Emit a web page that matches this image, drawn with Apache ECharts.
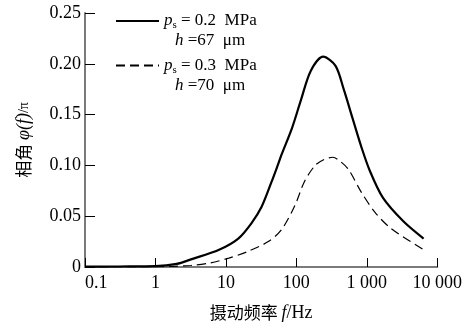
<!DOCTYPE html>
<html>
<head>
<meta charset="utf-8">
<script src="https://cdn.jsdelivr.net/npm/echarts@6/dist/echarts.min.js"></script>
<style>
  html, body { margin: 0; padding: 0; background: #fff; }
  #chart { width: 465px; height: 327px; }
</style>
</head>
<body>
<div id="chart"></div>
<script>
// frequency (Hz), phase angle / pi
const solidSeries = [
  [0.1, 0.0003], [0.3, 0.0005], [1, 0.0008], [2, 0.003], [3.2, 0.0075],
  [8, 0.017], [15, 0.028], [23, 0.043], [32, 0.059], [44, 0.083],
  [55, 0.101], [62, 0.111], [87, 0.137], [117, 0.165], [160, 0.193],
  [240, 0.207], [360, 0.198], [470, 0.175], [630, 0.146], [830, 0.119],
  [1100, 0.095], [1700, 0.068], [3300, 0.045], [6400, 0.028],
]
const dashedSeries = [
  [0.1, 0], [1, 0.0003], [3.2, 0.0015], [6, 0.004], [11, 0.0088],
  [20, 0.015], [40, 0.025], [62, 0.037], [96, 0.061], [130, 0.084],
  [185, 0.100], [250, 0.106], [330, 0.108], [420, 0.104], [550, 0.096],
  [830, 0.074], [1300, 0.054], [2200, 0.038], [6400, 0.017],
]
const seriesNames = ['solid', 'dashed']
const legendLines = {
  solid: ['0.2', '67'],
  dashed: ['0.3', '70'],
}
const xTickLabels = { 0.1: '0.1', 1: '1', 10: '10', 100: '100', 1000: '1 000', 10000: '10 000' }

const serif = 'Liberation Serif, Noto Sans CJK SC'
const cjk = 'Noto Sans CJK SC'

const chart = echarts.init(document.getElementById('chart'), null, { renderer: 'canvas' })

chart.setOption({
  animation: false,
  grid: { left: 85, right: 24, top: 13, bottom: 58 },
  legend: {
    left: 115,
    top: 11,
    padding: 0,
    orient: 'vertical',
    itemWidth: 43,
    itemHeight: 14,
    itemGap: 6,
    data: seriesNames,
    itemStyle: { opacity: 0 },
    formatter: (name) => {
      const [p, h] = legendLines[name]
      return `{i|p}{sub|s}{t| = ${p}  MPa}\n{ih|h}{t| =${h}  μm}`
    },
    textStyle: {
      fontFamily: serif,
      fontSize: 17,
      color: '#000',
      padding: [20, 0, 0, 0],
      rich: {
        i: { fontFamily: serif, fontStyle: 'italic', fontSize: 17, lineHeight: 20 },
        ih: { fontFamily: serif, fontStyle: 'italic', fontSize: 17, lineHeight: 20, padding: [0, 0, 0, 11] },
        sub: { fontFamily: serif, fontSize: 11, lineHeight: 20, padding: [9, 0, 0, 0] },
        t: { fontFamily: serif, fontSize: 17, lineHeight: 20 },
      },
    },
  },
  xAxis: {
    type: 'log',
    logBase: 10,
    min: 0.1,
    max: 10000,
    name: '{c|摄动频率 }{i|f}{t|/Hz}',
    nameLocation: 'middle',
    nameGap: 37,
    nameTextStyle: {
      rich: {
        c: { fontFamily: cjk, fontSize: 17, color: '#000' },
        i: { fontFamily: serif, fontStyle: 'italic', fontSize: 18, color: '#000' },
        t: { fontFamily: serif, fontSize: 18, color: '#000' },
      },
    },
    axisLine: { lineStyle: { color: '#7a7a7a', width: 2 } },
    axisTick: { inside: true, length: 9, lineStyle: { color: '#000', width: 1 } },
    axisLabel: {
      fontFamily: serif,
      fontSize: 18,
      color: '#000',
      margin: 7,
      alignMinLabel: 'left',
      formatter: (v) => xTickLabels[Math.round(v * 10) / 10] ?? '',
    },
    splitLine: { show: false },
  },
  yAxis: {
    type: 'value',
    min: 0,
    max: 0.25,
    interval: 0.05,
    name: '{c|相角 }{i|φ(f)}{t|/π}',
    nameLocation: 'middle',
    nameRotate: 90,
    nameGap: 52,
    nameTextStyle: {
      rich: {
        c: { fontFamily: cjk, fontSize: 17, color: '#000' },
        i: { fontFamily: serif, fontStyle: 'italic', fontSize: 18, color: '#000' },
        t: { fontFamily: serif, fontSize: 14, color: '#000' },
      },
    },
    axisLine: { show: true, lineStyle: { color: '#7a7a7a', width: 2 } },
    axisTick: { show: true, inside: true, length: 10, lineStyle: { color: '#000', width: 1 } },
    axisLabel: {
      fontFamily: serif,
      fontSize: 18,
      color: '#000',
      margin: 4,
      formatter: (v) => (v === 0 ? '0' : v.toFixed(2)),
    },
    splitLine: { show: false },
  },
  series: [
    {
      name: 'solid',
      type: 'line',
      data: solidSeries,
      smooth: 0.3,
      symbol: 'none',
      lineStyle: { color: '#000', width: 2.2, type: 'solid' },
      itemStyle: { color: '#000' },
    },
    {
      name: 'dashed',
      type: 'line',
      data: dashedSeries,
      smooth: 0.3,
      symbol: 'none',
      lineStyle: { color: '#000', width: 1.2, type: [9, 5] },
      itemStyle: { color: '#000' },
    },
  ],
})
</script>
</body>
</html>
